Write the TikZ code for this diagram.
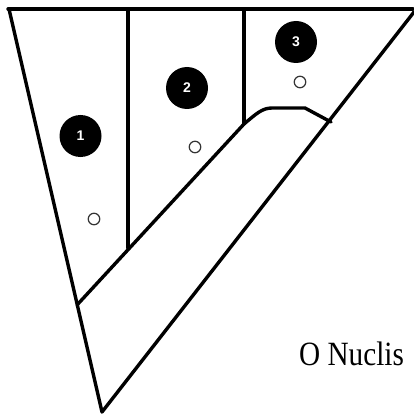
\documentclass[tikz,border=0pt]{standalone}
\usepackage{fontspec}
\setmainfont{Liberation Serif}
\newfontfamily\numfont{Liberation Sans}
\begin{document}
\begin{tikzpicture}[x=1pt,y=-1pt,
  edge/.style={line width=3.4pt,line join=round,line cap=round},
  numdot/.style={circle,fill=black,minimum size=42pt,inner sep=0pt,text=white,font=\numfont\bfseries\fontsize{14}{14}\selectfont},
  nucdot/.style={circle,draw=black!80,line width=1.2pt,minimum size=11.5pt,inner sep=0pt}]
\useasboundingbox (0,0) rectangle (413,414);
\coordinate (tl) at (8,9);
\coordinate (tr) at (413,9);
\coordinate (lt) at (9,9);
\coordinate (tip) at (102,412);
\coordinate (rt) at (414,12);
\coordinate (d1t) at (128,9);
\coordinate (d1b) at (128,248);
\coordinate (d2t) at (244,9);
\coordinate (d2b) at (244,124);
\coordinate (bl) at (77,305);
\coordinate (br) at (331,122);
\draw[edge] (tl) -- (tr);
\draw[edge] (lt) -- (tip) -- (rt);
\draw[edge] (d1t) -- (d1b);
\draw[edge] (d2t) -- (d2b);
\draw[edge] (bl) -- (d2b) .. controls (256,114) and (262,108) .. (272,108) -- (305,108) -- (br);
\node[numdot] (n1) at (80.5,136) {1};
\node[numdot] (n2) at (187,88) {2};
\node[numdot] (n3) at (296,42) {3};
\node[nucdot] (c1) at (94,219) {};
\node[nucdot] (c2) at (195,147) {};
\node[nucdot] (c3) at (300,82) {};
\node[anchor=base west,inner sep=0pt] (lbl) at (299,365) {\scalebox{0.86}[1]{\fontsize{34}{34}\selectfont O Nuclis}};
\end{tikzpicture}
\end{document}
